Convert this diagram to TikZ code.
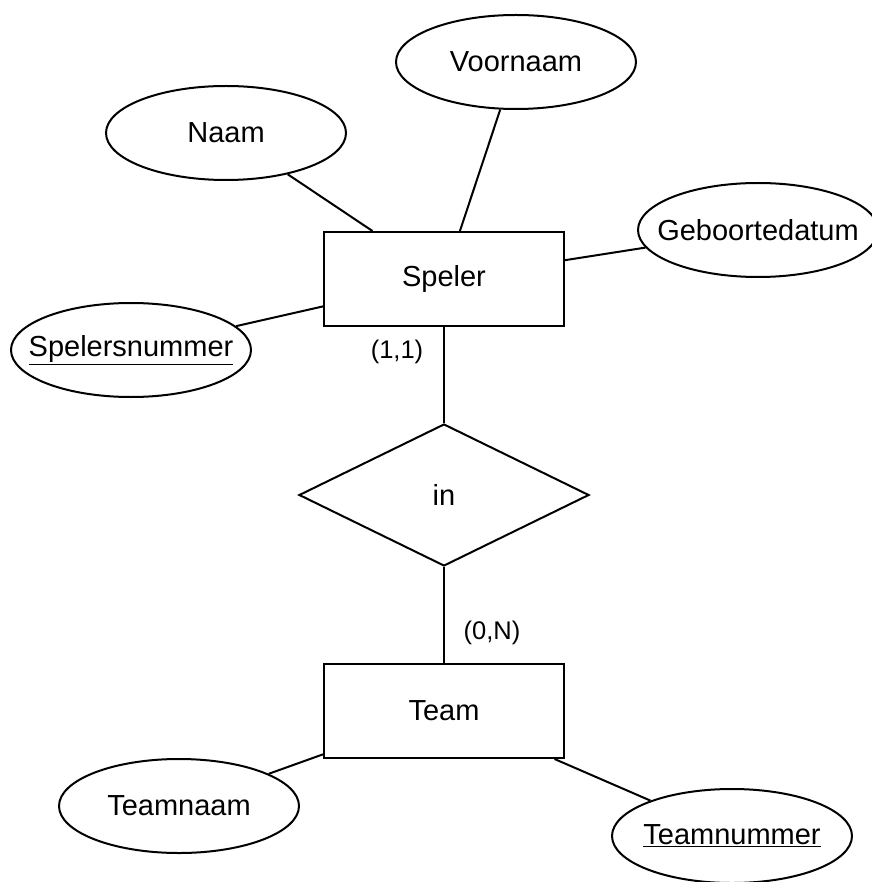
\documentclass[tikz,border=0pt]{standalone}
\usepackage{fontspec}
\setmainfont{Liberation Sans}
\usetikzlibrary{shapes.geometric}
\newcommand{\zw}[1]{\makebox[0pt]{#1}}
\begin{document}
\begin{tikzpicture}[x=1pt,y=-1pt,
  every node/.style={font=\fontsize{29}{34}\selectfont, inner sep=0pt},
  entity/.style={draw, line width=2pt, rectangle, minimum width=240pt, minimum height=94pt},
  attr/.style={draw, line width=2pt, ellipse, minimum width=240pt, minimum height=94pt},
  rel/.style={draw, line width=2pt, diamond, minimum width=290pt, minimum height=142pt},
  conn/.style={line width=2pt},
  card/.style={font=\fontsize{25.5}{30}\selectfont}]
\useasboundingbox (0,0) rectangle (871,882);
\node[entity] (speler) at (444,279) {Speler};
\node[entity] (team) at (444,711) {Team};
\node[rel] (in) at (444,495) {in};
\node[attr] (naam) at (226,133) {\zw{Naam}};
\node[attr] (voornaam) at (516,62) {\zw{Voornaam}};
\node[attr] (geb) at (758,230) {\zw{Geboortedatum}};
\node[attr] (snr) at (131,350) {\zw{\underline{Spelersnummer}}};
\node[attr] (tnaam) at (179,806) {\zw{Teamnaam}};
\node[attr] (tnr) at (732,836) {\zw{\underline{Teamnummer}}};
\draw[conn] (naam) -- (speler);
\draw[conn] (voornaam) -- (speler);
\draw[conn] (geb) -- (speler);
\draw[conn] (snr) -- (speler);
\draw[conn] (speler) -- (in);
\draw[conn] (in) -- (team);
\draw[conn] (tnaam) -- (team);
\draw[conn] (tnr) -- (team);
\node[card] (c1) at (397,352) {(1,1)};
\node[card] (c2) at (492,633) {(0,N)};
\end{tikzpicture}
\end{document}
